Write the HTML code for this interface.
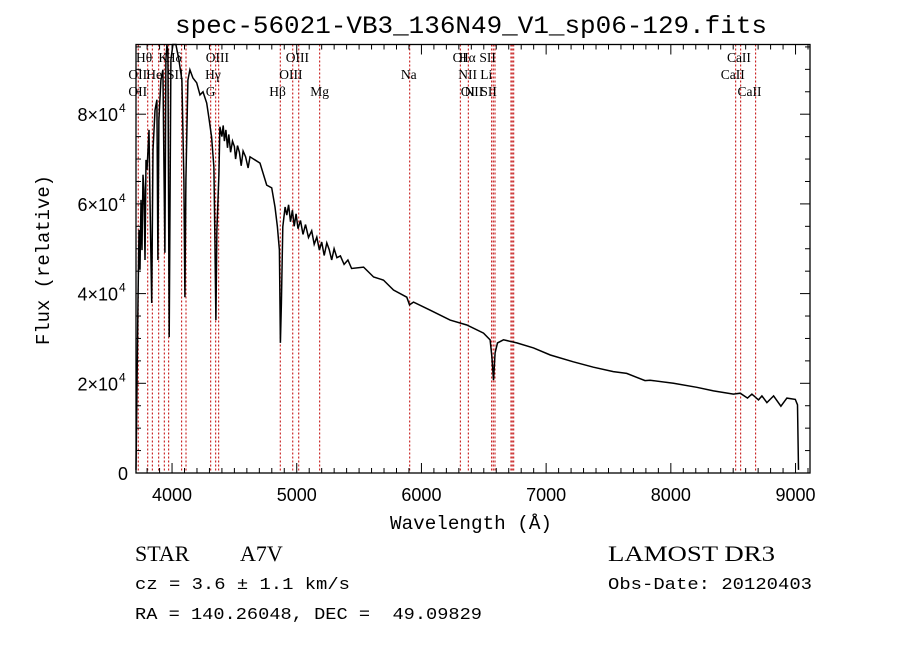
<!DOCTYPE html>
<html><head><meta charset="utf-8"><style>
html,body{margin:0;padding:0;background:#fff;}
svg{display:block;}
text{fill:#000;white-space:pre;}
</style></head><body>
<svg id="chart" width="900" height="649" xmlns="http://www.w3.org/2000/svg">
<rect width="900" height="649" fill="#fff"/>
<text x="471" y="33" text-anchor="middle" font-family="Liberation Mono, monospace" font-size="25" textLength="592" lengthAdjust="spacingAndGlyphs">spec-56021-VB3_136N49_V1_sp06-129.fits</text>
<g id="lines"></g>
<g id="labels"></g>
<g id="series"></g>
<g id="axes"></g>
<text x="471" y="529" text-anchor="middle" font-family="Liberation Mono, monospace" font-size="19" textLength="162" lengthAdjust="spacingAndGlyphs">Wavelength (Å)</text>
<text transform="translate(49,260) rotate(-90)" text-anchor="middle" font-family="Liberation Mono, monospace" font-size="19" textLength="170" lengthAdjust="spacingAndGlyphs">Flux (relative)</text>
<text x="135" y="561" font-family="Liberation Serif, serif" font-size="22">STAR</text>
<text x="240" y="561" font-family="Liberation Serif, serif" font-size="22">A7V</text>
<text x="608" y="561" font-family="Liberation Serif, serif" font-size="22" textLength="167" lengthAdjust="spacingAndGlyphs">LAMOST DR3</text>
<text x="135" y="589" font-family="Liberation Mono, monospace" font-size="17" textLength="215" lengthAdjust="spacingAndGlyphs">cz = 3.6 ± 1.1 km/s</text>
<text x="608" y="589" font-family="Liberation Mono, monospace" font-size="17" textLength="204" lengthAdjust="spacingAndGlyphs">Obs-Date: 20120403</text>
<text x="135" y="619" font-family="Liberation Mono, monospace" font-size="17" textLength="347" lengthAdjust="spacingAndGlyphs" xml:space="preserve">RA = 140.26048, DEC =  49.09829</text>
</svg>
<script>
const wl = [3711,3719,3727,3735,3743,3751,3759,3767,3775,3783,3791,3799,3807,3815,3823,3837,3847,3863,3879,3887,3895,3911,3927,3943,3951,3959,3967,3977,3991,4007,4031,4055,4079,4095,4103,4111,4127,4143,4167,4198,4224,4248,4278,4296,4317,4336,4344,4352,4360,4376,4384,4400,4410,4420,4432,4445,4455,4470,4485,4500,4510,4525,4540,4555,4570,4590,4610,4625,4705,4759,4799,4826,4845,4861,4869,4877,4888,4907,4920,4935,4950,4965,4980,4995,5010,5030,5050,5070,5094,5120,5140,5161,5182,5200,5220,5241,5260,5280,5300,5322,5350,5380,5410,5440,5536,5616,5696,5776,5883,5904,5936,6070,6230,6364,6498,6551,6565,6578,6591,6610,6658,6765,6899,7033,7218,7379,7539,7646,7793,7834,8021,8208,8342,8502,8556,8615,8650,8703,8730,8770,8824,8883,8931,8998,9016,9024];
const flux = [700,19200,38600,54200,45300,60900,49700,66500,63100,47500,69800,67600,72000,76500,60900,37900,72000,80900,83200,47500,78700,87600,89900,49100,92100,95400,94300,30300,92100,96600,96600,92100,87600,65300,39200,65300,87600,89900,88100,87000,84300,85000,82500,79200,74900,68200,52000,34100,54200,66500,77200,75000,77500,74000,76500,72500,75500,71500,74000,72800,70000,73000,71500,68500,71800,70500,68000,70500,69100,64200,63600,59300,54900,49700,29000,37900,54900,59300,57500,59800,56000,58600,55000,57800,54500,56300,53200,55400,52500,54000,51000,52600,49700,51500,48500,51300,49800,47500,50000,48000,48400,46500,47500,45600,45900,43700,43000,40800,39200,37500,38100,36300,34100,33000,31200,29700,25900,20700,26800,29000,29700,29000,27900,26300,24800,23600,22600,22200,20600,20700,20000,19100,18300,17600,17800,16700,17600,16300,17200,15700,17200,14900,16700,16400,15200,700];
const lineWl = [3729,3805,3842,3893,3938,3973,4077,4112,4310,4350,4374,4868,4968,5016,5184,5906,6312,6376,6563,6576,6590,6718,6728,6740,8520,8560,8680];
const labelText = ["Hθ","K","Hδ","OIII","OIII","OI","Hα","SII","CaII","OII","He","SII","Hγ","OIII","Na","NII","Li","CaII","OII","G","Hβ","Mg","OI","NII","SII","CaII"];
const labelWl = [3711,3890,3950,4270,4912,6250,6300,6465,8450,3650,3793,3960,4265,4860,5835,6295,6472,8400,3650,4270,4780,5108,6315,6345,6473,8535];
const labelRow = [0,0,0,0,0,0,0,0,0,1,1,1,1,1,1,1,1,1,2,2,2,2,2,2,2,2];
const xTicks = [4000,5000,6000,7000,8000,9000];
const yTicks = [0,20000,40000,60000,80000];
const yTickLabels = ["0","2×10","4×10","6×10","8×10"];

const NS="http://www.w3.org/2000/svg";
const L=136,R=810,T=44.5,B=473;
const X0=3711,X1=9116,Y1=95540;
function sx(v){return L+(v-X0)/(X1-X0)*(R-L);}
function sy(v){return B-v/Y1*(B-T);}
function mk(tag,attrs,parent){const e=document.createElementNS(NS,tag);for(const k in attrs)e.setAttribute(k,attrs[k]);parent.appendChild(e);return e;}

const gl=document.getElementById('lines');
lineWl.forEach(w=>{
  const ln=mk('line',{x1:sx(w),x2:sx(w),y1:T,y2:B,stroke:'#c00000','stroke-width':1,'stroke-dasharray':'2,2'},gl);
  
  
});
const glab=document.getElementById('labels');
const rowY=[62,79,96];
labelText.forEach((t,i)=>{
  const tx=mk('text',{x:sx(labelWl[i]),y:rowY[labelRow[i]],'font-family':'Liberation Serif, serif','font-size':13.5},glab);
  tx.textContent=t;
  
  
});

const gs=document.getElementById('series');
const pts=wl.map((w,i)=>sx(w).toFixed(1)+','+sy(Math.min(flux[i],Y1)).toFixed(1)).join(' ');
const pl=mk('polyline',{points:pts,fill:'none',stroke:'#000','stroke-width':1.5,'stroke-linejoin':'miter'},gs);



const ga=document.getElementById('axes');
const fr=mk('rect',{x:L,y:T,width:R-L,height:B-T,fill:'none',stroke:'#000','stroke-width':1.3},ga);


for(let w=3800;w<=9100;w+=100){
  const major=w%1000===0;const len=major?10:5;const x=sx(w);
  mk('line',{x1:x,x2:x,y1:B,y2:B-len,stroke:'#000','stroke-width':1},ga);
  mk('line',{x1:x,x2:x,y1:T,y2:T+len,stroke:'#000','stroke-width':1},ga);
}
for(let v=0;v<=95000;v+=5000){
  const major=v%20000===0;const len=major?10:5;const y=sy(v);
  mk('line',{x1:L,x2:L+len,y1:y,y2:y,stroke:'#000','stroke-width':1},ga);
  mk('line',{x1:R,x2:R-len,y1:y,y2:y,stroke:'#000','stroke-width':1},ga);
}
xTicks.forEach(v=>{
  const t=mk('text',{x:sx(v),y:B+28,'text-anchor':'middle','font-family':'Liberation Sans, sans-serif','font-size':18},ga);
  t.textContent=String(v);
  
  
});
yTicks.forEach((v,i)=>{
  const y=sy(v);
  const t=mk('text',{x:i===0?128:118,y:y+7,'text-anchor':'end','font-family':'Liberation Sans, sans-serif','font-size':18},ga);
  t.textContent=yTickLabels[i];
  
  
  if(i>0){
    const s=mk('text',{x:119,y:y-2,'font-family':'Liberation Sans, sans-serif','font-size':12},ga);
    s.textContent='4';
    
    
  }
});
</script>
</body></html>
